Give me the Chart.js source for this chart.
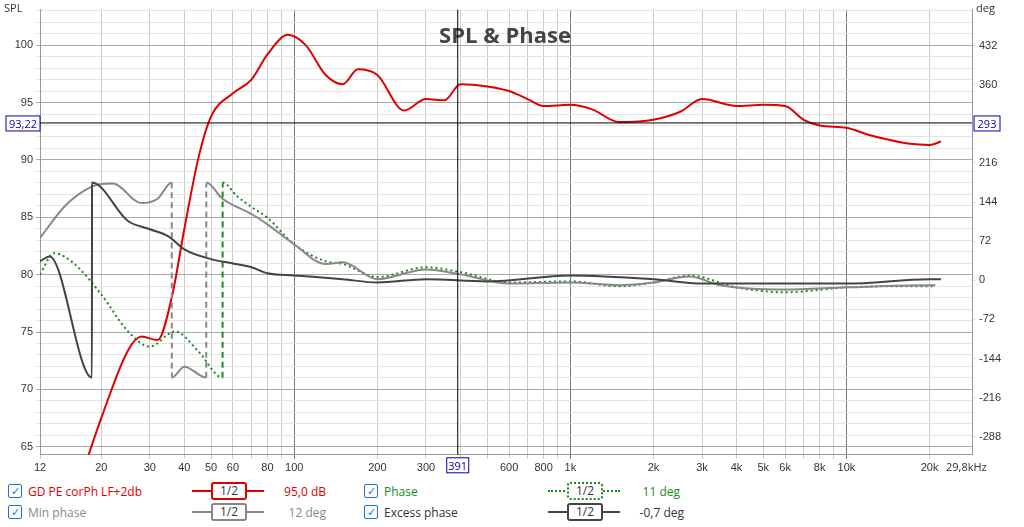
<!DOCTYPE html>
<html><head><meta charset="utf-8">
<script src="https://cdn.jsdelivr.net/npm/chart.js@4"></script>
<style>
body{margin:0;background:#fff;font-family:"Segoe UI","Open Sans",sans-serif;font-size:12px}
#wrap{width:1024px;height:478px;position:relative}
.leg{position:absolute;display:flex;align-items:center;height:20px}
.cb{width:12px;height:12px;border:1px solid #1a73d8;border-radius:2px;color:#1a73d8;font-size:11px;line-height:12px;text-align:center;margin-right:6px}
.sw{position:absolute;width:72px;height:18px}
.sw i{position:absolute;top:8px;left:0;width:72px;border-top:2px solid}
.sw b{position:absolute;left:19px;top:0;width:32px;height:14px;border:2px solid;border-radius:3px;background:#fff;font-weight:normal;font-size:12px;text-align:center;line-height:14px;color:#333}
</style></head><body>
<div id="wrap"><canvas id="c" width="1024" height="478"></canvas></div>
<div class="leg" style="left:8px;top:481px;color:#d00"><span class="cb">✓</span>GD PE corPh LF+2db</div>
<div class="sw" style="left:192px;top:482px"><i style="border-color:#d00"></i><b style="border-color:#d00">1/2</b></div>
<div class="leg" style="left:270px;top:481px;width:56px;justify-content:flex-end;color:#d00">95,0 dB</div>
<div class="leg" style="left:364px;top:481px;color:#1a8a1a"><span class="cb">✓</span>Phase</div>
<div class="sw" style="left:548px;top:482px"><i style="border-color:#1a8a1a;border-top-style:dotted"></i><b style="border-color:#1a8a1a;border-style:dotted">1/2</b></div>
<div class="leg" style="left:620px;top:481px;width:60px;justify-content:flex-end;color:#1a8a1a">11 deg</div>
<div class="leg" style="left:8px;top:502px;color:#888"><span class="cb">✓</span>Min phase</div>
<div class="sw" style="left:192px;top:503px"><i style="border-color:#888"></i><b style="border-color:#888">1/2</b></div>
<div class="leg" style="left:270px;top:502px;width:56px;justify-content:flex-end;color:#888">12 deg</div>
<div class="leg" style="left:364px;top:502px;color:#333"><span class="cb">✓</span>Excess phase</div>
<div class="sw" style="left:548px;top:503px"><i style="border-color:#444"></i><b style="border-color:#444">1/2</b></div>
<div class="leg" style="left:620px;top:502px;width:64px;justify-content:flex-end;color:#333">-0,7 deg</div>
<script>
// SPL (dB) vs frequency
const splF = [18,20,25,28,32,36,40,45,50,60,70,80,95,110,130,150,170,200,250,300,350,400,500,600,700,800,1000,1200,1500,2000,2500,3000,4000,5000,6000,7000,8000,10000,12000,14000,17000,20000,22000];
const splV = [64.3,67.5,73.4,74.6,74.3,78,84,90.2,93.8,95.8,97,99.2,100.9,100,97.4,96.6,97.9,97.4,94.3,95.3,95.2,96.6,96.4,96,95.3,94.7,94.8,94.4,93.3,93.5,94.2,95.3,94.7,94.8,94.7,93.5,93,92.8,92.2,91.8,91.4,91.3,91.6];
// phase (deg); near-equal frequency pair = wrap
const phF = [12,13.5,16,20,25,30,37,45,55,55.05,62,70,80,100,130,150,200,300,400,600,1000,1500,2000,2700,4000,6000,10000,15000,21000];
const phV = [11,50,30,-26,-94,-122,-94,-131,-179,180,155,135,115,66,35,30,6,24,15,-4,-2,-11,-4,9,-13,-22,-13,-11,-11];
const minF = [12,15,20,22,28,32,36,36.03,40,48,48.04,55,70,80,100,130,150,200,300,400,600,1000,1500,2000,2700,3500,6000,10000,20000,21000];
const minV = [78,140,177,178,142,150,180,-179,-159,-179,180,150,122,103,66,30,33,2,20,11,-6,-4,-9,-4,7,-9,-17,-13,-9,-9];
const exF = [12,13,18.5,18.52,25,30,35,40,50,60,70,80,100,150,200,300,500,1000,2000,3000,5000,10000,20000,22000];
const exV = [35,44,-179,180,109,94,81,57,39,31,24,13,9,2,-4,2,-2,9,2,-6,-6,-6,2,2];
const freqLabels = [12,20,30,40,50,60,80,100,200,300,600,800,1000,2000,3000,4000,5000,6000,8000,10000,20000];
const phaseTicks = [-288,-216,-144,-72,0,72,144,216,288,360,432];
const cursorSpl = 93.22, cursorF = 391;

const pts = (f, v) => f.map((x, i) => ({x, y: v[i]}));
const isWrap = ctx => ctx.p1.parsed.x / ctx.p0.parsed.x < 1.005;
const wrapDash = ctx => isWrap(ctx) ? [6, 4] : undefined;
const fmtF = v => v >= 1000 ? (v / 1000) + 'k' : '' + v;

const overlay = {
  id: 'overlay',
  afterDraw(ch) {
    const c = ch.ctx, a = ch.chartArea, x = ch.scales.x, y = ch.scales.y;
    c.save();
    c.fillStyle = '#444'; c.font = 'bold 22px "Open Sans",sans-serif'; c.textAlign = 'center';
    c.fillText('SPL & Phase', 505, 43);
    c.font = '11px "Open Sans",sans-serif'; c.fillStyle = '#333';
    c.textAlign = 'left'; c.fillText('SPL', 4, 12);
    c.fillText('deg', 976, 12);
    c.fillText('29,8kHz', 946, 471);
    const cy = y.getPixelForValue(cursorSpl), cx = x.getPixelForValue(cursorF);
    c.strokeStyle = '#000'; c.lineWidth = 1;
    c.beginPath(); c.moveTo(a.left, cy); c.lineTo(a.right, cy); c.moveTo(cx, a.top); c.lineTo(cx, a.bottom); c.stroke();
    const box = (bx, by, w, t) => {
      c.fillStyle = '#fff'; c.fillRect(bx, by, w, 15); c.strokeStyle = '#00a'; c.strokeRect(bx, by, w, 15);
      c.fillStyle = '#00a'; c.textAlign = 'center'; c.fillText(t, bx + w / 2, by + 12);
    };
    box(6, cy - 7, 34, '93,22'); box(974, cy - 7, 26, '293'); box(cx - 11, a.bottom + 3, 22, '391');
    c.restore();
  }
};

new Chart(document.getElementById('c'), {
  type: 'line',
  data: { datasets: [
    { data: pts(exF, exV), yAxisID: 'y2', borderColor: '#444', borderWidth: 2, pointRadius: 0, cubicInterpolationMode: 'monotone' },
    { data: pts(minF, minV), yAxisID: 'y2', borderColor: '#888', borderWidth: 2, pointRadius: 0, cubicInterpolationMode: 'monotone', segment: { borderDash: wrapDash } },
    { data: pts(phF, phV), yAxisID: 'y2', borderColor: '#1a8a1a', borderWidth: 2, pointRadius: 0, cubicInterpolationMode: 'monotone', borderDash: [2, 3], segment: { borderDash: c => wrapDash(c) || [2, 3] } },
    { data: pts(splF, splV), yAxisID: 'y', borderColor: '#e00000', borderWidth: 2, pointRadius: 0, cubicInterpolationMode: 'monotone' }
  ]},
  options: {
    animation: false, responsive: false, events: [],
    plugins: { legend: { display: false }, tooltip: { enabled: false } },
    scales: {
      x: { type: 'logarithmic', min: 12, max: 28500,
        afterBuildTicks: ax => {
          const t = [{value: 12}];
          for (let d = 10; d <= 10000; d *= 10) for (let m = 1; m < 10; m++) { const v = d * m; if (v > 12 && v <= 28500) t.push({value: v}); }
          ax.ticks = t;
        },
        ticks: { autoSkip: false, maxRotation: 0, color: '#333', font: { size: 11 }, callback: v => freqLabels.includes(v) ? fmtF(v) : '' },
        grid: { color: c => [100, 1000, 10000].includes(c.tick && c.tick.value) ? '#777' : '#ccc', tickLength: 4 },
        border: { color: '#999' } },
      y: { position: 'left', min: 64.3, max: 103.1,
        afterBuildTicks: ax => { const t = []; for (let v = 65; v <= 103; v++) t.push({value: v}); ax.ticks = t; },
        afterFit: ax => { ax.width = 40; },
        ticks: { autoSkip: false, color: '#333', font: { size: 11 }, callback: v => v % 5 === 0 ? v : '' },
        grid: { color: c => c.tick && c.tick.value % 5 === 0 ? '#aaa' : '#e4e4e4', tickLength: 4 },
        border: { color: '#999' } },
      y2: { position: 'right', min: -321, max: 498,
        afterBuildTicks: ax => { ax.ticks = phaseTicks.map(v => ({value: v})); },
        afterFit: ax => { ax.width = 52; },
        ticks: { autoSkip: false, color: '#333', font: { size: 11 } },
        grid: { drawOnChartArea: false, tickLength: 4 },
        border: { color: '#999' } }
    }
  },
  plugins: [overlay]
});
</script></body></html>
